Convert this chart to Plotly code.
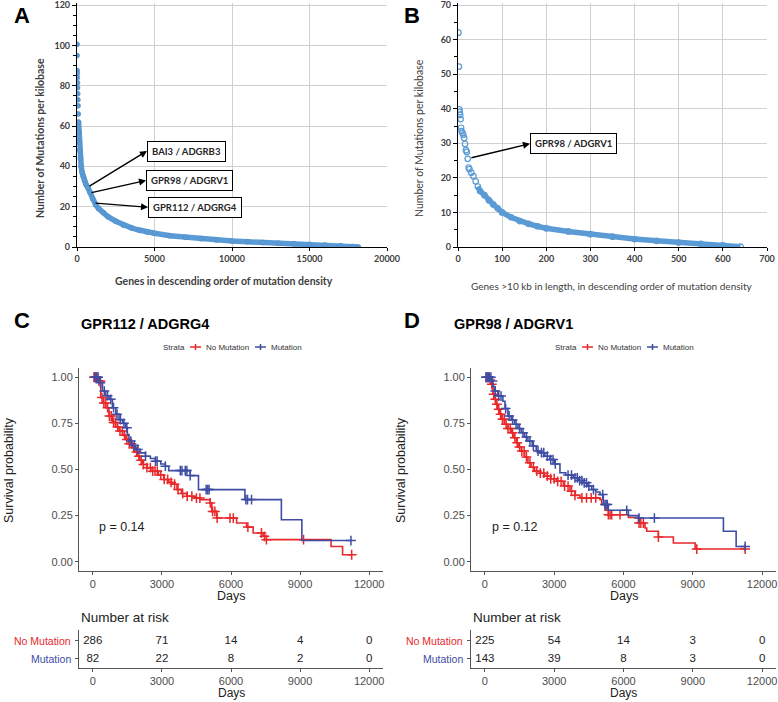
import numpy as np
import plotly.graph_objects as go

W, H = 778, 702
def fx(p): return p / W
def fy(p): return 1 - p / H

# ---------------- Panel A: all genes ----------------
a_rank = [1, 4, 10, 14, 20, 28, 35, 45, 55, 65, 80, 100, 120, 150, 180, 220, 270, 330, 400, 480,
          580, 700, 840, 1000, 1200, 1400, 1700, 2000, 2500, 3000, 3500, 4000, 4500, 5000, 6000,
          7000, 8000, 9000, 10000, 11000, 12000, 13000, 14000, 15000, 16000, 17000, 17800, 18150]
a_density = [100.5, 95, 87.5, 86, 84, 81.5, 79, 76, 73, 70, 66, 62, 57, 52, 48, 44, 40, 37, 35, 33,
             31, 29.5, 27, 24, 21, 19, 17, 15, 12.8, 10.8, 9.5, 8.4, 7.5, 6.8, 5.6,
             4.8, 4.1, 3.5, 3.0, 2.6, 2.2, 1.9, 1.6, 1.3, 1.0, 0.6, 0.25, 0.0]

# ---------------- Panel B: genes > 10 kb ----------------
b_rank = [1, 2, 3, 4, 5, 6, 7, 8, 10, 12, 14, 16, 18, 20, 22, 24, 26, 30, 35, 40, 45, 50, 60, 70,
          80, 90, 100, 120, 140, 160, 180, 200, 250, 300, 350, 400, 450, 500, 550, 600, 640]
b_density = [62, 52.2, 39.8, 39, 38.2, 37, 34.5, 33.5, 33, 32.5, 31.5, 29.8, 28, 27.5, 25.5, 23,
             22.5, 21.5, 20.5, 19, 17.5, 16.2, 15, 13.5, 12.3, 11.2, 10, 8.6, 7.5, 6.7, 6.0, 5.4,
             4.5, 3.7, 3.0, 2.3, 1.8, 1.3, 0.9, 0.5, 0.1]

# ---------------- Panel C: GPR112 / ADGRG4 ----------------
c_mut_t = [0, 300, 420, 560, 705, 850, 1000, 1137, 1300, 1425, 1500, 1568, 1700, 1856, 2050, 2287,
           2500, 2719, 2950, 3150, 3295, 4229, 4588, 6603, 8187, 9077, 11208]
c_mut_s = [1.0, 0.97, 0.925, 0.9, 0.88, 0.835, 0.8, 0.77, 0.75, 0.726, 0.69, 0.654, 0.63, 0.609,
           0.59, 0.572, 0.56, 0.545, 0.53, 0.518, 0.494, 0.467, 0.391, 0.337, 0.228, 0.115, 0.115]
c_mut_cens = [80, 150, 230, 330, 500, 640, 780, 900, 1050, 1200, 1350, 1480, 1650, 1800, 1950,
              2287, 2719, 2791, 3150, 3798, 3870, 4013, 4085, 4229, 4920, 4990, 5050, 6646, 6718,
              6892, 11208]
c_no_t = [0, 200, 345, 450, 561, 700, 850, 1000, 1137, 1300, 1425, 1570, 1712, 1820, 1928, 2040,
          2143, 2350, 2575, 2850, 3078, 3300, 3440, 3654, 3850, 4085, 4400, 4661, 5093, 5165, 5381,
          6243, 6675, 6963, 7393, 7537, 10345, 10845, 11240]
c_no_s = [1.0, 0.98, 0.89, 0.86, 0.835, 0.79, 0.755, 0.73, 0.708, 0.685, 0.663, 0.64, 0.618, 0.595,
          0.572, 0.55, 0.527, 0.51, 0.491, 0.47, 0.446, 0.43, 0.42, 0.391, 0.37, 0.355, 0.345,
          0.337, 0.319, 0.273, 0.237, 0.21, 0.188, 0.156, 0.138, 0.12, 0.083, 0.038, 0.038]
c_no_cens = [50, 120, 180, 260, 330, 400, 480, 560, 640, 720, 800, 900, 980, 1080, 1180, 1280,
             1380, 1480, 1580, 1680, 1780, 1900, 2000, 2100, 2200, 2350, 2500, 2600, 2700, 2800,
             2950, 3100, 3250, 3400, 3550, 3700, 3900, 4100, 4300, 4500, 4650, 5100, 5200, 5300,
             5400, 5956, 6100, 6733, 7322, 7450, 7537, 9150, 11240]
c_p_text = "p = 0.14"
c_risk_no = [286, 71, 14, 4, 0]
c_risk_mut = [82, 22, 8, 2, 0]

# ---------------- Panel D: GPR98 / ADGRV1 ----------------
d_mut_t = [0, 274, 350, 419, 563, 780, 870, 997, 1140, 1286, 1430, 1574, 1720, 1863, 2050, 2223,
           2383, 2600, 2816, 3000, 3250, 3500, 3826, 4050, 4259, 4450, 4622, 4800, 4983, 5127,
           5344, 6211, 6650, 10325, 10875, 11265]
d_mut_s = [1.0, 0.98, 0.95, 0.925, 0.898, 0.87, 0.83, 0.79, 0.768, 0.745, 0.722, 0.699, 0.676,
           0.654, 0.627, 0.6, 0.591, 0.572, 0.554, 0.53, 0.482, 0.47, 0.455, 0.44, 0.428, 0.41,
           0.391, 0.378, 0.364, 0.31, 0.279, 0.25, 0.237, 0.165, 0.083, 0.083]
d_mut_cens = [50, 100, 150, 200, 260, 330, 450, 600, 700, 900, 1050, 1200, 1350, 1500, 1650, 1800,
              1950, 2100, 2300, 2450, 2550, 2700, 2850, 2950, 3050, 3600, 3750, 3900, 4000, 4100,
              4200, 4300, 4400, 4500, 4700, 5100, 5200, 5250, 5300, 6140, 6673, 7337, 11265]
d_no_t = [0, 200, 274, 347, 420, 490, 560, 636, 740, 852, 1000, 1140, 1250, 1357, 1460, 1574,
          1720, 1863, 2000, 2153, 2383, 2586, 2850, 3106, 3400, 3683, 3900, 4116, 4983, 5054,
          5200, 5344, 6211, 6644, 6932, 7005, 7510, 8158, 9100, 11265]
d_no_s = [1.0, 0.985, 0.962, 0.908, 0.88, 0.853, 0.826, 0.8, 0.772, 0.745, 0.722, 0.699, 0.672,
          0.645, 0.622, 0.6, 0.568, 0.536, 0.512, 0.491, 0.48, 0.464, 0.45, 0.436, 0.41, 0.382,
          0.36, 0.346, 0.337, 0.31, 0.28, 0.255, 0.24, 0.21, 0.183, 0.165, 0.134, 0.102, 0.069,
          0.069]
d_no_cens = [60, 150, 230, 300, 380, 450, 520, 600, 680, 760, 840, 920, 1000, 1100, 1200, 1300,
             1400, 1500, 1600, 1700, 1800, 1950, 2100, 2250, 2400, 2550, 2700, 2850, 3000, 3150,
             3300, 3450, 3600, 3750, 3900, 4200, 4400, 4600, 4800, 5344, 5420, 5490, 5850, 6673,
             6750, 6860, 7510, 9172, 11265]
d_p_text = "p = 0.12"
d_risk_no = [225, 54, 14, 3, 0]
d_risk_mut = [143, 39, 8, 3, 0]

time_ticks = [0, 3000, 6000, 9000, 12000]
time_labels = ["0", "3000", "6000", "9000", "12000"]
a_ticks = [0, 5000, 10000, 15000, 20000]
a_tick_labels = ["0", "5000", "10000", "15000", "20000"]
strata = ["No Mutation", "Mutation"]

# annotated genes (curve point -> label box), in data units
a_genes = [("BAI3 / ADGRB3", 710, 29.7, 4516, 47.6),
           ("GPR98 / ADGRV1", 839, 26.8, 4452, 33.0),
           ("GPR112 / ADGRG4", 1097, 21.8, 4581, 19.7)]
b_genes = [("GPR98 / ADGRV1", 27, 25.7, 163, 29.9)]

RED = '#E8282B'
BLUE = '#3E4DA3'
XLB = '#5B9BD5'
KMF = 'Liberation Sans'
XLF = 'Lato'
GRID = '#D0D0D0'

fig = go.Figure()

# Panel A
fig.add_trace(go.Scatter(x=a_rank[11:], y=a_density[11:], mode='lines',
                         line=dict(color=XLB, width=5.5), xaxis='x', yaxis='y'))
fig.add_trace(go.Scatter(x=a_rank, y=a_density, mode='markers',
                         marker=dict(size=5, color=XLB, line=dict(color='#4F8BC9', width=0.6)),
                         xaxis='x', yaxis='y'))
# Panel B
fig.add_trace(go.Scatter(x=b_rank[20:], y=b_density[20:], mode='lines',
                         line=dict(color=XLB, width=5.5), xaxis='x2', yaxis='y2'))
fig.add_trace(go.Scatter(x=b_rank, y=b_density, mode='markers',
                         marker=dict(size=5.5, symbol='circle-open', color=XLB, line=dict(width=1.2)),
                         xaxis='x2', yaxis='y2'))

def km(t, s, cens, color, xa, ya):
    fig.add_trace(go.Scatter(x=t, y=s, mode='lines', line=dict(color=color, width=1.6, shape='hv'),
                             xaxis=xa, yaxis=ya))
    ta = np.array(t); sa = np.array(s)
    idx = np.searchsorted(ta, np.array(cens), side='right') - 1
    fig.add_trace(go.Scatter(x=cens, y=sa[idx], mode='markers',
                             marker=dict(symbol='cross-thin', size=7, color=color,
                                         line=dict(color=color, width=1.5)),
                             xaxis=xa, yaxis=ya))

km(c_no_t, c_no_s, c_no_cens, RED, 'x3', 'y3')
km(c_mut_t, c_mut_s, c_mut_cens, BLUE, 'x3', 'y3')
km(d_no_t, d_no_s, d_no_cens, RED, 'x4', 'y4')
km(d_mut_t, d_mut_s, d_mut_cens, BLUE, 'x4', 'y4')

# risk tables
for xa, ya, rn, rm in [('x5', 'y5', c_risk_no, c_risk_mut), ('x6', 'y6', d_risk_no, d_risk_mut)]:
    fig.add_trace(go.Scatter(x=time_ticks, y=[2] * 5, mode='text', text=[str(v) for v in rn],
                             textfont=dict(family=KMF, size=11.5, color='#222'), xaxis=xa, yaxis=ya))
    fig.add_trace(go.Scatter(x=time_ticks, y=[1] * 5, mode='text', text=[str(v) for v in rm],
                             textfont=dict(family=KMF, size=11.5, color='#222'), xaxis=xa, yaxis=ya))

# ---------------- axes ----------------
xl_tick = dict(family=XLF, size=9, color='#404040', weight='bold')
xl_x = dict(showline=True, linecolor='#000', linewidth=1.2, ticks='outside', ticklen=3, tickcolor='#000',
            showgrid=True, gridcolor=GRID, gridwidth=1, zeroline=False, tickfont=xl_tick,
            layer='below traces', ticklabeloverflow='allow')
xl_y = dict(showline=True, linecolor='#000', linewidth=1.2, ticks='outside', ticklen=4, tickcolor='#000',
            showgrid=True, gridcolor=GRID, gridwidth=1, zeroline=False, tickfont=xl_tick,
            layer='below traces', ticklabeloverflow='allow',
            minor=dict(dtick=5, ticks='outside', ticklen=3, tickcolor='#000'))

km_x = dict(range=[-600, 12600], tickvals=time_ticks, ticktext=time_labels, showline=True,
            linecolor='#555', linewidth=1, ticks='outside', ticklen=3, tickcolor='#555',
            showgrid=False, zeroline=False, tickfont=dict(family=KMF, size=11, color='#4D4D4D'))
km_y = dict(range=[-0.05, 1.05], tickvals=[0, 0.25, 0.5, 0.75, 1.0],
            ticktext=['0.00', '0.25', '0.50', '0.75', '1.00'], showline=True, linecolor='#555',
            linewidth=1, ticks='outside', ticklen=3, tickcolor='#555', showgrid=False, zeroline=False,
            tickfont=dict(family=KMF, size=11, color='#4D4D4D'))
rk_y = dict(range=[0.5, 2.6], tickvals=[1, 2], showticklabels=False, showline=True, linecolor='#555',
            linewidth=1, ticks='outside', ticklen=3, tickcolor='#555', showgrid=False, zeroline=False)

fig.update_layout(
    template='none',
    xaxis=dict(xl_x, domain=[fx(77), fx(387)], range=[0, 20000], tickvals=a_ticks,
               ticktext=a_tick_labels, anchor='y'),
    yaxis=dict(xl_y, domain=[fy(247), fy(3)], range=[0, 121], tickvals=[0, 20, 40, 60, 80, 100, 120],
               anchor='x'),
    xaxis2=dict(xl_x, domain=[fx(458), fx(767)], range=[0, 700], dtick=100, anchor='y2'),
    yaxis2=dict(xl_y, domain=[fy(247), fy(3.27)], range=[0, 70.5], tickvals=[0, 10, 20, 30, 40, 50, 60, 70],
                anchor='x2'),
    xaxis3=dict(km_x, domain=[fx(79), fx(383)], anchor='y3'),
    yaxis3=dict(km_y, domain=[fy(571), fy(368)], anchor='x3'),
    xaxis4=dict(km_x, domain=[fx(471), fx(776)], anchor='y4'),
    yaxis4=dict(km_y, domain=[fy(571), fy(368)], anchor='x4'),
    xaxis5=dict(km_x, domain=[fx(79), fx(383)], anchor='y5'),
    yaxis5=dict(rk_y, domain=[fy(668), fy(630)], anchor='x5'),
    xaxis6=dict(km_x, domain=[fx(471), fx(776)], anchor='y6'),
    yaxis6=dict(rk_y, domain=[fy(668), fy(630)], anchor='x6'),
    width=W, height=H, margin=dict(l=0, r=0, t=0, b=0),
    paper_bgcolor='white', plot_bgcolor='white', showlegend=False,
)

ann = []
def text(s, x, y, size, color='#000', xanchor='center', yanchor='middle', angle=0, family=KMF,
         weight='normal', xref='paper', yref='paper'):
    ann.append(dict(text=s, x=x, y=y, xref=xref, yref=yref, showarrow=False, xanchor=xanchor,
                    yanchor=yanchor, textangle=angle,
                    font=dict(family=family, size=size, color=color, weight=weight)))

# panel letters
for L, px, py in [('A', 12, 16), ('B', 402, 16), ('C', 12, 321), ('D', 402, 320)]:
    text(L, fx(px), fy(py), 22, xanchor='left', weight='bold')

# A / B axis titles
text('Number of Mutations per kilobase', fx(40), fy(138), 10.5, '#404040', angle=-90, family=XLF, weight='bold')
text('Genes in descending order of mutation density', fx(224), fy(281), 10.5, '#404040', family=XLF, weight='bold')
text('Number of Mutations per kilobase', fx(419), fy(138), 10.5, '#404040', angle=-90, family=XLF)
text('Genes >10 kb in length, in descending order of mutation density', fx(612), fy(286), 10, '#404040', family=XLF)

# label boxes with arrows
for genes, xr, yr in [(a_genes, 'x', 'y'), (b_genes, 'x2', 'y2')]:
    for lab, gx, gy, bx, by in genes:
        ann.append(dict(text='', x=bx, y=by, ax=gx, ay=gy, xref=xr, yref=yr, axref=xr, ayref=yr,
                        showarrow=True, arrowhead=2, arrowsize=1, arrowwidth=1.4, arrowcolor='#000'))
        ann.append(dict(text=lab, x=bx, y=by, xref=xr, yref=yr, showarrow=False, xanchor='left',
                        yanchor='middle', bordercolor='#000', borderwidth=1, borderpad=4, bgcolor='white',
                        font=dict(family=XLF, size=9.5, color='#262626', weight='bold')))

# KM panels
shapes = []
for title, x0, axc, pt, ptx, lab_r, leg in [
        ('GPR112 / ADGRG4', 79, 231, c_p_text, 97, 73, (161, 190, 204, 255, 269)),
        ('GPR98 / ADGRV1', 452, 623.5, d_p_text, 490, 465, (553, 582, 596, 647, 661))]:
    xoff = 0 if x0 == 79 else 392
    text(title, fx(x0), fy(324), 14.5, '#000', xanchor='left', weight='bold')
    text('Survival probability', fx(9 + xoff), fy(470), 12.5, '#222', angle=-90)
    text('Days', fx(axc), fy(596), 12.5, '#222')
    text(pt, fx(ptx), fy(527), 12.5, '#222', xanchor='left')
    text('Number at risk', fx(79 + xoff), fy(617), 13.5, '#222', xanchor='left')
    text('Days', fx(axc), fy(693), 12, '#222')
    # legend
    s0, r0, rt, b0, bt = leg
    text('Strata', fx(s0), fy(347), 8, '#333', xanchor='left')
    text(strata[0], fx(rt), fy(347), 8, '#333', xanchor='left')
    text(strata[1], fx(bt), fy(347), 8, '#333', xanchor='left')
    for c, xs in [(RED, r0), (BLUE, b0)]:
        shapes.append(dict(type='line', xref='paper', yref='paper', x0=fx(xs), x1=fx(xs + 11),
                           y0=fy(347), y1=fy(347), line=dict(color=c, width=1.5)))
        shapes.append(dict(type='line', xref='paper', yref='paper', x0=fx(xs + 5.5), x1=fx(xs + 5.5),
                           y0=fy(344), y1=fy(350), line=dict(color=c, width=1.5)))

for lab, yv, col in [(strata[0], 2, RED), (strata[1], 1, BLUE)]:
    text(lab, fx(73), yv, 10.5, col, xanchor='right', yref='y5')
    text(lab, fx(465), yv, 10.5, col, xanchor='right', yref='y6')

fig.update_layout(annotations=ann, shapes=shapes)
fig.write_html('out.html', config={'displayModeBar': False},
               post_script="document.body.style.margin='0px';document.body.style.overflow='hidden';")
